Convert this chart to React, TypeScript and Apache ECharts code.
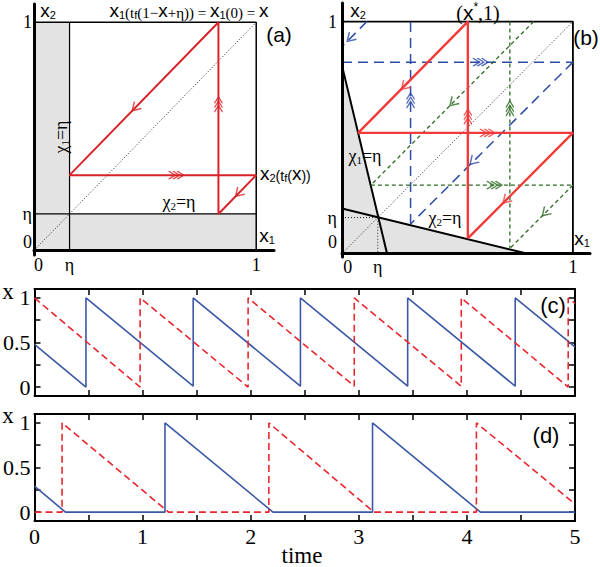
import React, { useEffect, useRef } from 'react';
import * as echarts from 'echarts';

const FS = 'Liberation Serif';
const SS = 'Liberation Sans';

// ---------- Panel (a) ----------
const ETA_A = 0.16;
const grayA = [[0, 1], [ETA_A, 1], [ETA_A, ETA_A], [1, ETA_A], [1, 0]];
const etaVA = [[ETA_A, 0], [ETA_A, 1]];
const etaHA = [[0, ETA_A], [1, ETA_A]];
const frameA = [[0, 1], [1, 1], [1, 0]];
const diagA = [[0, 0], [1, 1]];
const redA = [[0.83, 1], [0.16, 0.33], [1, 0.33], [0.83, 0.16], [0.83, 1]];
const arrows1A = [[0.455, 0.625, 225], [0.92, 0.25, 225]];
const arrows3A = [[0.64, 0.33, 0], [0.83, 0.64, 90]];
const xTickPosA = [0.02, ETA_A, 1];
const yTickPosA = [0.037, ETA_A, 1];
const tickLabels = ['0', 'η', '1'];

// ---------- Panel (b) ----------
const ETA_B = 0.155;
const grayB = [[0, 0.81], [0.155, 0.155], [0.8, 0]];
const chi1B = [[0, 0.81], [0.195, 0]];
const chi2B = [[0, 0.194], [0.8, 0]];
const etaDotB = [[0, 0.155], [0.155, 0.155], [0.155, 0]];
const frameB = [[0, 1], [1, 1], [1, 0]];
const diagB = [[0, 0], [1, 1]];
const redB = [[0.545, 0.065], [0.545, 1], [0.07, 0.52], [1, 0.52], [0.545, 0.065]];
const blueB = [
  [[0.297, 0.127], [0.297, 1]],
  [[0, 0.825], [1, 0.825]],
  [[1, 0.825], [0.297, 0.127]],
  [[0.108, 1], [0, 0.892], [0, 0.825]],
];
const greenB = [
  [[0.727, 1], [0.727, 0.022]],
  [[0.125, 0.295], [1, 0.295]],
  [[0.83, 1], [0.125, 0.295]],
  [[1, 0.295], [0.727, 0.022]],
];
const arrows1RedB = [[0.27, 0.72, 225], [0.71, 0.23, 225]];
const arrows3RedB = [[0.545, 0.59, 90], [0.63, 0.52, 0]];
const arrows1BlueB = [[0.035, 0.927, 225], [0.567, 0.397, 225]];
const arrows3BlueB = [[0.297, 0.66, 90], [0.6, 0.825, 0]];
const arrows1GreenB = [[0.48, 0.65, 225], [0.88, 0.175, 225]];
const arrows3GreenB = [[0.727, 0.625, 90], [0.66, 0.295, 0]];
const xTickPosB = [0.025, ETA_B, 1];
const yTickPosB = [0.05, ETA_B, 1];

// ---------- Panel (c) ----------
const blueC = [[0, 0.48], [0.476, 0], [0.476, 1], [1.468, 0.01], [1.468, 1], [2.46, 0.01], [2.46, 1],
  [3.452, 0.01], [3.452, 1], [4.447, 0.01], [4.447, 1], [5, 0.45]];
const redC = [[0, 1], [0.977, 0], [0.977, 1], [1.976, 0], [1.976, 1], [2.958, 0.01], [2.958, 1],
  [3.948, 0.01], [3.948, 1], [4.937, 0], [4.937, 1], [5, 0.94]];

// ---------- Panel (d) ----------
const blueD = [[0, 0.29], [0.286, 0], [1.207, 0], [1.207, 1], [2.206, 0], [3.127, 0], [3.127, 1],
  [4.125, 0], [5, 0]];
const redD = [[0, 0], [0.255, 0], [0.255, 1], [1.24, 0], [2.168, 0], [2.168, 1], [3.14, 0],
  [4.088, 0], [4.088, 1], [5, 0.09]];

const yTickCD = [0, 0.25, 0.5, 0.75, 1];
const yLabelCD = [0, 0.5, 1];
const xLabelD = [0, 1, 2, 3, 4, 5];

const RED_A = '#d8232b';
const RED_B = '#f23a3a';
const BLUE_B = '#2c4aa8';
const GREEN_B = '#2d6b22';
const BLUE_T = '#3b58a6';
const RED_T = '#e8262e';

const CHEV1 = 'path://M0,0L8,5L0,10';
const CHEV3 = 'path://M0,0L6,5L0,10M4,0L10,5L4,10M8,0L14,5L8,10';

function labelFor(v: number, pos: number[], labels: string[]) {
  const i = pos.findIndex((p) => Math.abs(p - v) < 1e-6);
  return i >= 0 ? labels[i] : '';
}

function line(xi: number, data: number[][], color: string, width: number, type: any = 'solid', z = 3) {
  return {
    type: 'line', xAxisIndex: xi, yAxisIndex: xi, data, showSymbol: false, symbol: 'none',
    silent: true, lineStyle: { color, width, type }, z,
  };
}

function arrows(xi: number, list: number[][], color: string, triple: boolean) {
  return {
    type: 'scatter', xAxisIndex: xi, yAxisIndex: xi, silent: true, z: 6,
    symbol: triple ? CHEV3 : CHEV1,
    symbolSize: triple ? [15, 8] : [8, 10],
    data: list.map((a) => ({ value: [a[0], a[1]], symbolRotate: a[2] })),
    itemStyle: { color: 'none', borderColor: color, borderWidth: 1.4 },
  };
}

function area(xi: number, data: number[][]) {
  return {
    type: 'line', xAxisIndex: xi, yAxisIndex: xi, data, showSymbol: false, symbol: 'none', silent: true,
    lineStyle: { width: 0 }, areaStyle: { color: '#e3e3e3', opacity: 1 }, z: 1,
  };
}

function phaseXAxis(gi: number, max: number, pos: number[]) {
  return {
    gridIndex: gi, type: 'value', min: 0, max, z: 10,
    axisLine: { onZero: true, lineStyle: { color: '#000', width: 3 } },
    axisTick: { show: false }, splitLine: { show: false },
    axisLabel: {
      customValues: pos, formatter: (v: number) => labelFor(v, pos, tickLabels),
      fontFamily: FS, fontSize: 18, color: '#000', margin: 1,
    },
  };
}
function phaseYAxis(gi: number, min: number, max: number, pos: number[], margin: number) {
  return {
    gridIndex: gi, type: 'value', min, max, z: 10,
    axisLine: { onZero: true, lineStyle: { color: '#000', width: 3 } },
    axisTick: { show: false }, splitLine: { show: false },
    axisLabel: {
      customValues: pos, formatter: (v: number) => labelFor(v, pos, tickLabels),
      fontFamily: FS, fontSize: 18, color: '#000', margin,
    },
  };
}

const tick = { inside: true, length: 6, lineStyle: { color: '#000', width: 1.5 } };
function timeXAxis(gi: number, position: string, labels: boolean) {
  return {
    gridIndex: gi, type: 'value', min: 0, max: 5, interval: 0.5, position,
    axisLine: { onZero: false, lineStyle: { color: '#000', width: 2 } },
    axisTick: tick, splitLine: { show: false },
    axisLabel: labels
      ? { customValues: xLabelD, fontFamily: FS, fontSize: 22, color: '#000', margin: 4 }
      : { show: false },
  };
}
function timeYAxis(gi: number, position: string, labels: boolean) {
  return {
    gridIndex: gi, type: 'value', min: -0.1, max: 1.1, position,
    axisLine: { onZero: false, lineStyle: { color: '#000', width: 2 } },
    axisTick: { ...tick, customValues: yTickCD }, splitLine: { show: false },
    axisLabel: labels
      ? { customValues: yLabelCD, fontFamily: FS, fontSize: 22, color: '#000', margin: 4 }
      : { show: false },
  };
}

const rich = {
  X: { fontFamily: SS, fontSize: 19, fill: '#000', verticalAlign: 'bottom', lineHeight: 20 },
  XL: { fontFamily: SS, fontSize: 21, fill: '#000', verticalAlign: 'bottom', lineHeight: 22 },
  s: { fontFamily: SS, fontSize: 11, fill: '#000', verticalAlign: 'bottom', lineHeight: 11 },
  m: { fontFamily: SS, fontSize: 14, fill: '#000', verticalAlign: 'bottom', lineHeight: 18 },
  t: { fontFamily: FS, fontSize: 15, fill: '#000', verticalAlign: 'bottom', lineHeight: 18 },
  tl: { fontFamily: FS, fontSize: 20, fill: '#000', verticalAlign: 'bottom', lineHeight: 22 },
  g: { fontFamily: FS, fontSize: 18, fill: '#000', verticalAlign: 'bottom', lineHeight: 20 },
  gs: { fontFamily: FS, fontSize: 11, fill: '#000', verticalAlign: 'bottom', lineHeight: 12 },
  sup: { fontFamily: SS, fontSize: 12, fill: '#000', verticalAlign: 'top', lineHeight: 20 },
};

function txt(x: number, y: number, text: string, extra: any = {}) {
  const { rotation, ...style } = extra;
  return {
    type: 'text', x, y, silent: true, z: 20,
    ...(rotation !== undefined ? { rotation } : {}),
    style: { text, rich, align: 'center', verticalAlign: 'middle', fill: '#000', ...style },
  };
}

const option: any = {
  animation: false,
  backgroundColor: '#fff',
  grid: [
    { left: 34, top: 4, width: 240, height: 251 },
    { left: 342, top: 3, width: 248, height: 254 },
    { left: 32, top: 289, width: 543, height: 107 },
    { left: 32, top: 414, width: 543, height: 107 },
  ],
  xAxis: [
    phaseXAxis(0, 1.08, xTickPosA),
    phaseXAxis(1, 1.074, xTickPosB),
    timeXAxis(2, 'bottom', false),
    timeXAxis(3, 'bottom', true),
    timeXAxis(2, 'top', false),
    timeXAxis(3, 'top', false),
  ],
  yAxis: [
    phaseYAxis(0, -0.02, 1.08, yTickPosA, 2),
    phaseYAxis(1, -0.015, 1.08, yTickPosB, 5),
    timeYAxis(2, 'left', true),
    timeYAxis(3, 'left', true),
    timeYAxis(2, 'right', false),
    timeYAxis(3, 'right', false),
  ],
  series: [
    // (a)
    area(0, grayA),
    line(0, etaVA, '#000', 1.2),
    line(0, etaHA, '#000', 1.2),
    line(0, frameA, '#000', 1.5),
    line(0, diagA, '#222', 1, [1, 2]),
    line(0, redA, RED_A, 2, 'solid', 4),
    arrows(0, arrows1A, RED_A, false),
    arrows(0, arrows3A, RED_A, true),
    // (b)
    area(1, grayB),
    line(1, chi1B, '#000', 2),
    line(1, chi2B, '#000', 2),
    line(1, etaDotB, '#222', 1, [1, 2]),
    line(1, frameB, '#000', 1.8),
    line(1, diagB, '#222', 1, [1, 2]),
    ...blueB.map((d) => line(1, d, BLUE_B, 1.5, [10, 6], 4)),
    ...greenB.map((d) => line(1, d, GREEN_B, 1.3, [4, 3], 4)),
    line(1, redB, RED_B, 2.4, 'solid', 5),
    arrows(1, arrows1RedB, RED_B, false),
    arrows(1, arrows3RedB, RED_B, true),
    arrows(1, arrows1BlueB, BLUE_B, false),
    arrows(1, arrows3BlueB, BLUE_B, true),
    arrows(1, arrows1GreenB, GREEN_B, false),
    arrows(1, arrows3GreenB, GREEN_B, true),
    // (c)
    line(2, blueC, BLUE_T, 1.6),
    line(2, redC, RED_T, 1.6, [7, 4]),
    // (d)
    line(3, blueD, BLUE_T, 1.6),
    line(3, redD, RED_T, 1.6, [7, 4]),
  ],
  graphic: [
    txt(48, 10, '{X|x}{s|2}'),
    txt(189, 10, '{X|x}{s|1}{t|(t}{s|f}{t|(1−}{X|x}{t|+η)) = }{X|x}{s|1}{t|(0) = }{X|x}'),
    txt(279, 34, '(a)', { fontFamily: SS, fontSize: 21 }),
    txt(267, 235, '{X|x}{s|1}'),
    txt(60, 137, '{g|χ}{gs|1}{g|=η}', { rotation: Math.PI / 2 }),
    txt(179, 201, '{g|χ}{gs|2}{g|=η}'),
    txt(260, 173, '{X|x}{s|2}{m|(t}{s|f}{m|(}{X|x}{m|))}', { align: 'left' }),
    txt(358, 10, '{X|x}{s|2}'),
    txt(478, 12, '{tl|(}{XL|x}{sup|*}{tl|,1)}'),
    txt(586, 37, '(b)', { fontFamily: SS, fontSize: 21 }),
    txt(582, 238, '{X|x}{s|1}'),
    txt(365, 155, '{g|χ}{gs|1}{g|=η}'),
    txt(445, 217, '{g|χ}{gs|2}{g|=η}'),
    txt(8, 291, 'x', { fontFamily: FS, fontSize: 23 }),
    txt(553, 305, '(c)', { fontFamily: SS, fontSize: 22 }),
    txt(8, 415, 'x', { fontFamily: FS, fontSize: 23 }),
    txt(546, 435, '(d)', { fontFamily: SS, fontSize: 22 }),
    txt(302, 555, 'time', { fontFamily: FS, fontSize: 23 }),
  ],
};

export default function App() {
  const ref = useRef<HTMLDivElement>(null);
  useEffect(() => {
    const chart = echarts.init(ref.current!, null, { renderer: 'svg' });
    chart.setOption(option);
    return () => chart.dispose();
  }, []);
  return (
    <div
      ref={ref}
      style={{ position: 'fixed', left: 0, top: 0, width: 600, height: 567, background: '#fff' }}
    />
  );
}
